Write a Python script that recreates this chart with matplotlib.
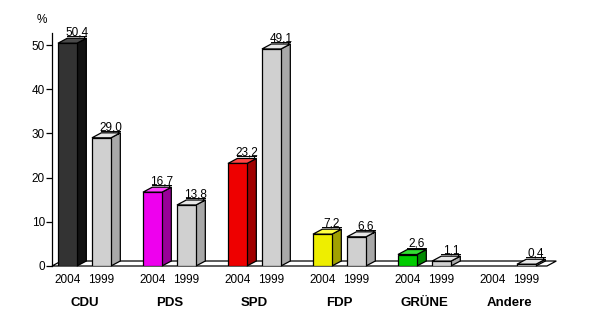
import matplotlib
matplotlib.use('Agg')
import matplotlib.pyplot as plt
from matplotlib.patches import Polygon

plt.rcParams['font.family'] = ['Liberation Sans', 'DejaVu Sans']

# data
parties = ['CDU', 'PDS', 'SPD', 'FDP', 'GRÜNE', 'Andere']
years = ['2004', '1999']
votes_2004 = [50.4, 16.7, 23.2, 7.2, 2.6, None]
votes_1999 = [29.0, 13.8, 49.1, 6.6, 1.1, 0.4]
labels_2004 = ['50,4', '16,7', '23,2', '7,2', '2,6', '']
labels_1999 = ['29,0', '13,8', '49,1', '6,6', '1,1', '0,4']

# colours (front, side, top)
col_2004 = [('#333333', '#111111', '#4a4a4a'),
            ('#ee00ee', '#990099', '#ff44ff'),
            ('#ee0000', '#a00000', '#ff4444'),
            ('#eeee00', '#a0a000', '#ffff44'),
            ('#00cc00', '#008800', '#33dd33'),
            ('#cccccc', '#a8a8a8', '#e4e4e4')]
col_1999 = ('#d0d0d0', '#a8a8a8', '#e6e6e6')

# geometry
w = 0.2235
off = 0.2
dx = 0.11
dy = 1.13

fig = plt.figure(figsize=(5.89, 3.14), dpi=100)
ax = fig.add_axes([52 / 589, 48 / 314, 508 / 589, 233 / 314])
ax.set_xlim(-0.382, -0.382 + 508 / 85)
ax.set_ylim(0, 233 / 4.42)

# floor
x_left = -0.382
x_right = (547 - 84.5) / 85
floor = Polygon([(x_left, 0), (x_right, 0), (x_right + dx, dy), (x_left + dx, dy)],
                closed=True, facecolor='white', edgecolor='black', lw=0.9, zorder=1, clip_on=False)
ax.add_patch(floor)


def draw_bar(xc, v, cols, lab):
    if v is None:
        return
    front, side, top = cols
    x0 = xc - w / 2
    x1 = xc + w / 2
    ax.bar(xc, v, width=w, color=front, edgecolor='black', lw=0.9, zorder=3)
    ax.add_patch(Polygon([(x1, 0), (x1 + dx, dy), (x1 + dx, v + dy), (x1, v)],
                         closed=True, facecolor=side, edgecolor='black', lw=0.9, zorder=2, clip_on=False))
    ax.add_patch(Polygon([(x0, v), (x0 + dx, v + dy), (x1 + dx, v + dy), (x1, v)],
                         closed=True, facecolor=top, edgecolor='black', lw=0.9, zorder=2, clip_on=False))
    # label with little leader line
    ax.plot([x0 + dx, x1 + dx], [v + dy + 0.45, v + dy + 0.45], color='black', lw=0.7, zorder=4, clip_on=False)
    ax.plot([x1 + dx * 0.8, x1 + dx * 0.8], [v + dy + 0.45, v + dy - 0.2], color='black', lw=0.7, zorder=4, clip_on=False)
    ax.text(xc + dx, v + dy + 0.6, lab, ha='center', va='baseline', fontsize=8.5, zorder=5, clip_on=False)


for i, p in enumerate(parties):
    draw_bar(i - off, votes_2004[i], col_2004[i], labels_2004[i])
    draw_bar(i + off, votes_1999[i], col_1999, labels_1999[i])
    ax.text(i - off, -3.2, years[0], ha='center', va='center', fontsize=8.5, clip_on=False)
    ax.text(i + off, -3.2, years[1], ha='center', va='center', fontsize=8.5, clip_on=False)
    ax.text(i, -8.3, p, ha='center', va='center', fontsize=9.5, fontweight='bold', clip_on=False)

ax.text(-0.5, 55.7, '%', ha='center', va='center', fontsize=8.5, clip_on=False)

ax.set_yticks([0, 10, 20, 30, 40, 50])
ax.tick_params(axis='y', direction='out', length=4, width=0.9, pad=1, labelsize=8.5)
ax.set_xticks([])
for s in ['top', 'right', 'bottom']:
    ax.spines[s].set_visible(False)
ax.spines['left'].set_linewidth(0.9)

fig.savefig('out.png', dpi=100)
